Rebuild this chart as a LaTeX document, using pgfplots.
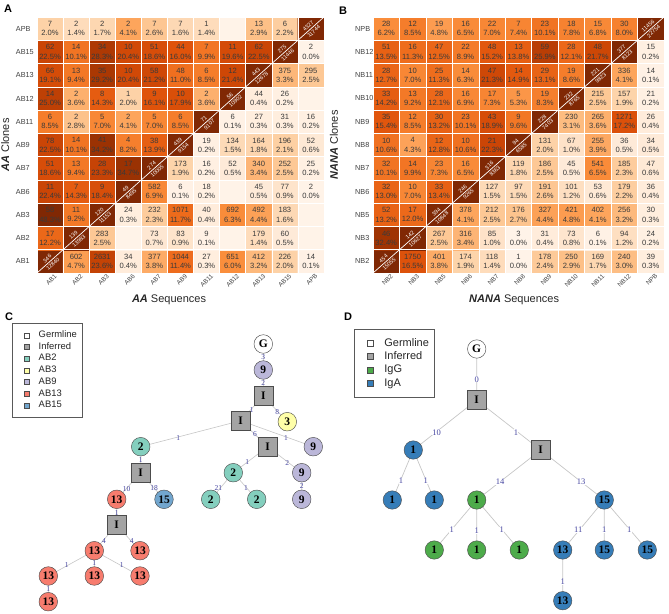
\documentclass[border=0pt]{standalone}
\usepackage{fontspec}
\setmainfont{Liberation Sans}
\newfontfamily\treefont{Liberation Serif}
\usepackage{pgfplots}
\usepackage{pgfplotstable}
\pgfplotsset{compat=1.18}
\pgfkeys{/pgf/number format/assume math mode=true}

\definecolor{celltxt}{HTML}{3A3A3A}
\definecolor{ticktxt}{HTML}{404040}
\definecolor{edgecol}{HTML}{C6C6C6}
\definecolor{edgelab}{HTML}{4545A0}
\definecolor{infer}{HTML}{A4A4A4}
\definecolor{ab2}{HTML}{84CFBE}
\definecolor{ab3}{HTML}{FFFFA8}
\definecolor{ab9}{HTML}{BBB7D9}
\definecolor{ab13}{HTML}{F77C6E}
\definecolor{ab15}{HTML}{72A6CE}
\definecolor{igg}{HTML}{4DAB4A}
\definecolor{iga}{HTML}{367DB8}

\newcommand\cellfont{\fontsize{7.6}{9.2}\selectfont}
\newcommand\diagfont{\fontsize{5.6}{6}\selectfont}
\newcommand\nodefont{\treefont\bfseries\fontsize{11.5}{12}\selectfont}
\newcommand\cntfmt[1]{\pgfmathprintnumber[fixed, precision=0, 1000 sep={}]{#1}}
\newcommand\pctfmt[1]{\pgfmathprintnumber[fixed, fixed zerofill, precision=1]{#1}}

% clones x sequences, A: AA donor, B: NANA donor (t: 0 blank, 1 shared, 2 diagonal)
\pgfplotstableread[row sep=\\]{
x y n p t\\
0 0 346 12840 2\\ 1 0 602 4.7 1\\ 2 0 2631 23.6 1\\ 3 0 34 0.4 1\\ 4 0 377 3.8 1\\ 5 0 1044 11.4 1\\ 6 0 27 0.3 1\\ 7 0 651 6.0 1\\ 8 0 412 3.2 1\\ 9 0 226 2.0 1\\ 10 0 14 0.1 1\\
0 1 17 12.2 1\\ 1 1 139 13983 2\\ 2 1 283 2.5 1\\ 3 1 0 0 0\\ 4 1 73 0.7 1\\ 5 1 83 0.9 1\\ 6 1 9 0.1 1\\ 7 1 0 0 0\\ 8 1 179 1.4 1\\ 9 1 60 0.5 1\\ 10 1 0 0 0\\
0 2 58 48.3 1\\ 1 2 11 9.2 1\\ 2 2 120 11153 2\\ 3 2 24 0.3 1\\ 4 2 232 2.3 1\\ 5 2 1071 11.7 1\\ 6 2 40 0.4 1\\ 7 2 692 6.3 1\\ 8 2 492 4.4 1\\ 9 2 183 1.6 1\\ 10 2 0 0 0\\
0 3 11 22.4 1\\ 1 3 7 14.3 1\\ 2 3 9 18.4 1\\ 3 3 49 8495 2\\ 4 3 582 6.9 1\\ 5 3 6 0.1 1\\ 6 3 18 0.2 1\\ 7 3 0 0 0\\ 8 3 45 0.5 1\\ 9 3 77 0.9 1\\ 10 3 2 0.0 1\\
0 4 51 18.6 1\\ 1 4 13 9.4 1\\ 2 4 28 23.3 1\\ 3 4 17 34.7 1\\ 4 4 274 10005 2\\ 5 4 173 1.9 1\\ 6 4 16 0.2 1\\ 7 4 52 0.5 1\\ 8 4 340 3.4 1\\ 9 4 252 2.5 1\\ 10 4 25 0.2 1\\
0 5 78 22.5 1\\ 1 5 14 10.1 1\\ 2 5 41 34.2 1\\ 3 5 4 8.2 1\\ 4 5 38 13.9 1\\ 5 5 439 9154 2\\ 6 5 19 0.2 1\\ 7 5 134 1.5 1\\ 8 5 164 1.8 1\\ 9 5 196 2.1 1\\ 10 5 52 0.6 1\\
0 6 6 8.5 1\\ 1 6 2 2.8 1\\ 2 6 5 7.0 1\\ 3 6 2 4.1 1\\ 4 6 5 7.0 1\\ 5 6 6 8.5 1\\ 6 6 71 9107 2\\ 7 6 6 0.1 1\\ 8 6 27 0.3 1\\ 9 6 31 0.3 1\\ 10 6 16 0.2 1\\
0 7 14 25.0 1\\ 1 7 2 3.6 1\\ 2 7 8 14.3 1\\ 3 7 1 2.0 1\\ 4 7 9 16.1 1\\ 5 7 10 17.9 1\\ 6 7 2 3.6 1\\ 7 7 56 10902 2\\ 8 7 44 0.4 1\\ 9 7 26 0.2 1\\ 10 7 0 0 0\\
0 8 66 19.1 1\\ 1 8 13 9.4 1\\ 2 8 35 29.2 1\\ 3 8 10 20.4 1\\ 4 8 58 21.2 1\\ 5 8 48 11.0 1\\ 6 8 6 8.5 1\\ 7 8 12 21.4 1\\ 8 8 443 12678 2\\ 9 8 375 3.3 1\\ 10 8 295 2.5 1\\
0 9 62 22.5 1\\ 1 9 14 10.1 1\\ 2 9 34 28.3 1\\ 3 9 10 20.4 1\\ 4 9 51 18.6 1\\ 5 9 44 16.0 1\\ 6 9 7 9.9 1\\ 7 9 11 19.6 1\\ 8 9 62 22.5 1\\ 9 9 275 11446 2\\ 10 9 2 0.0 1\\
0 10 7 2.0 1\\ 1 10 2 1.4 1\\ 2 10 2 1.7 1\\ 3 10 2 4.1 1\\ 4 10 7 2.6 1\\ 5 10 7 1.6 1\\ 6 10 1 1.4 1\\ 7 10 0 0 0\\ 8 10 13 2.9 1\\ 9 10 6 2.2 1\\ 10 10 4327 11744 2\\
}\tabA

\pgfplotstableread[row sep=\\]{
x y n p t\\
0 0 454 15055 2\\ 1 0 1750 16.5 1\\ 2 0 401 3.8 1\\ 3 0 174 1.9 1\\ 4 0 118 1.4 1\\ 5 0 1 0.0 1\\ 6 0 178 2.4 1\\ 7 0 250 2.9 1\\ 8 0 169 1.7 1\\ 9 0 240 3.0 1\\ 10 0 39 0.3 1\\
0 1 46 32.4 1\\ 1 1 142 10627 2\\ 2 1 267 2.5 1\\ 3 1 316 3.4 1\\ 4 1 85 1.0 1\\ 5 1 3 0.0 1\\ 6 1 31 0.4 1\\ 7 1 73 0.8 1\\ 8 1 6 0.1 1\\ 9 1 94 1.2 1\\ 10 1 24 0.2 1\\
0 2 52 13.2 1\\ 1 2 17 12.0 1\\ 2 2 394 10848 2\\ 3 2 378 4.1 1\\ 4 2 212 2.5 1\\ 5 2 176 2.7 1\\ 6 2 327 4.4 1\\ 7 2 421 4.8 1\\ 8 2 402 4.1 1\\ 9 2 256 3.2 1\\ 10 2 30 0.3 1\\
0 3 32 13.0 1\\ 1 3 10 7.0 1\\ 2 3 33 13.4 1\\ 3 3 246 9265 2\\ 4 3 127 1.5 1\\ 5 3 97 1.5 1\\ 6 3 191 2.6 1\\ 7 3 101 1.2 1\\ 8 3 53 0.6 1\\ 9 3 179 2.2 1\\ 10 3 36 0.4 1\\
0 4 32 10.1 1\\ 1 4 14 9.9 1\\ 2 4 23 7.3 1\\ 3 4 16 6.5 1\\ 4 4 316 8363 2\\ 5 4 119 1.8 1\\ 6 4 186 2.5 1\\ 7 4 45 0.5 1\\ 8 4 541 6.5 1\\ 9 4 185 2.3 1\\ 10 4 47 0.6 1\\
0 5 10 10.6 1\\ 1 5 4 4.3 1\\ 2 5 12 12.8 1\\ 3 5 10 10.6 1\\ 4 5 21 22.3 1\\ 5 5 94 6585 2\\ 6 5 131 2.0 1\\ 7 5 67 1.0 1\\ 8 5 255 3.9 1\\ 9 5 36 0.5 1\\ 10 5 34 0.5 1\\
0 6 35 15.4 1\\ 1 6 12 8.5 1\\ 2 6 30 13.2 1\\ 3 6 23 10.1 1\\ 4 6 43 18.9 1\\ 5 6 9 9.6 1\\ 6 6 228 7403 2\\ 7 6 230 3.1 1\\ 8 6 265 3.6 1\\ 9 6 1271 17.2 1\\ 10 6 26 0.4 1\\
0 7 33 14.2 1\\ 1 7 13 9.2 1\\ 2 7 28 12.1 1\\ 3 7 16 6.9 1\\ 4 7 17 7.3 1\\ 5 7 5 5.3 1\\ 6 7 19 8.3 1\\ 7 7 232 8765 2\\ 8 7 215 2.5 1\\ 9 7 157 1.9 1\\ 10 7 21 0.2 1\\
0 8 28 12.7 1\\ 1 8 10 7.0 1\\ 2 8 25 11.3 1\\ 3 8 14 6.3 1\\ 4 8 47 21.3 1\\ 5 8 14 14.9 1\\ 6 8 29 13.1 1\\ 7 8 19 8.6 1\\ 8 8 221 9823 2\\ 9 8 336 4.1 1\\ 10 8 14 0.1 1\\
0 9 51 13.5 1\\ 1 9 16 11.3 1\\ 2 9 47 12.5 1\\ 3 9 22 8.9 1\\ 4 9 48 15.2 1\\ 5 9 13 13.8 1\\ 6 9 59 25.9 1\\ 7 9 28 12.1 1\\ 8 9 48 21.7 1\\ 9 9 377 8123 2\\ 10 9 15 0.2 1\\
0 10 28 6.2 1\\ 1 10 12 8.5 1\\ 2 10 19 4.8 1\\ 3 10 16 6.5 1\\ 4 10 22 7.0 1\\ 5 10 7 7.4 1\\ 6 10 23 10.1 1\\ 7 10 18 7.8 1\\ 8 10 15 6.8 1\\ 9 10 30 8.0 1\\ 10 10 11456 22754 2\\
}\tabB

\pgfplotsset{
  colormap={hmorange}{rgb255(0cm)=(255,243,232) rgb255(1cm)=(254,226,200) rgb255(2cm)=(253,210,167) rgb255(3cm)=(253,190,132) rgb255(4cm)=(253,166,94) rgb255(6cm)=(250,142,60) rgb255(9cm)=(244,122,40) rgb255(12cm)=(236,105,26) rgb255(16cm)=(223,83,11) rgb255(22cm)=(204,70,6) rgb255(30cm)=(166,54,3) rgb255(45cm)=(128,40,4)},
  heat/.style={
    scale only axis, height=256pt,
    xmin=-0.5, xmax=10.5, ymin=-0.5, ymax=10.5,
    axis line style={draw=none}, major tick length=0pt, minor tick length=0pt,
    xtick={0,...,10}, ytick={0,...,10},
    minor xtick={-0.5,0.5,...,10.5}, minor ytick={-0.5,0.5,...,10.5},
    xminorgrids, yminorgrids, minor grid style={white, line width=0.5pt},
    axis on top,
    colormap name=hmorange, point meta min=0, point meta max=45,
    yticklabel style={anchor=west, inner sep=0pt, text=ticktxt, font=\fontsize{7.3}{8}\selectfont},
    xticklabel style={rotate=45, anchor=north east, inner sep=0pt, xshift=2.5pt, yshift=-3pt, text=ticktxt, font=\fontsize{6.3}{7}\selectfont},
    label style={font=\fontsize{11}{13}\selectfont, text=black!85},
    ylabel style={anchor=center}, xlabel style={anchor=center},
  },
  tree/.style={
    scale only axis, height=305pt, ymin=-613, ymax=-308,
    hide axis, clip=false, legend cell align=left,
  },
  sqC/.style={legend image code/.code={\path (0pt,0pt) (12pt,0pt); \draw[draw=black!70, line width=0.4pt, fill=#1] (7pt,-2.5pt) rectangle (12pt,2.5pt);}},
  sqD/.style={legend image code/.code={\path (0pt,0pt) (13.7pt,0pt); \draw[draw=black!70, line width=0.4pt, fill=#1] (7.7pt,-3pt) rectangle (13.7pt,3pt);}},
  treenode/.style={only marks, mark=#1, nodes near coords, point meta=explicit symbolic,
    every node near coord/.append style={anchor=center, font=\nodefont, inner sep=0pt}},
}

\newcommand\heatplots[1]{%
  \addplot[matrix plot*, mesh/cols=11, point meta={\thisrow{t}>1.5 ? 45 : \thisrow{p}}] table[x=x, y=y] {#1};
  \addplot[white, line width=0.7pt] coordinates {(-0.5,-0.5) (10.5,10.5)};
  \addplot[draw=none, nodes near coords={\cntfmt{\cnt}\\\pctfmt{\pct}\%},
    visualization depends on={\thisrow{n}\as\cnt},
    visualization depends on={\thisrow{p}\as\pct},
    every node near coord/.append style={anchor=center, align=center, font=\cellfont, text=celltxt, inner sep=0pt},
    restrict expr to domain={\thisrow{t}}{1:1}] table[x=x, y=y] {#1};
  \addplot[draw=none, nodes near coords={\cntfmt{\cnt}},
    visualization depends on={\thisrow{n}\as\cnt},
    every node near coord/.append style={anchor=center, xshift=-2.8pt, yshift=2.8pt, rotate=42, font=\diagfont, text=white, inner sep=0pt},
    restrict expr to domain={\thisrow{t}}{2:2}] table[x=x, y=y] {#1};
  \addplot[draw=none, nodes near coords={\cntfmt{\pct}},
    visualization depends on={\thisrow{p}\as\pct},
    every node near coord/.append style={anchor=center, xshift=2.8pt, yshift=-2.8pt, rotate=42, font=\diagfont, text=white, inner sep=0pt},
    restrict expr to domain={\thisrow{t}}{2:2}] table[x=x, y=y] {#1};
}

\begin{document}
\begin{tikzpicture}
\useasboundingbox (0pt,-613pt) rectangle (669pt,0pt);

\begin{axis}[heat, at={(37pt,-273pt)}, anchor=south west, width=287pt,
  xticklabels={AB1,AB2,AB3,AB6,AB7,AB9,AB11,AB12,AB13,AB15,APB},
  yticklabels={AB1,AB2,AB3,AB6,AB7,AB9,AB11,AB12,AB13,AB15,APB},
  yticklabel style={xshift=-21.3pt},
  xlabel={\textbf{\textit{AA}} Sequences}, ylabel={\textbf{\textit{AA}} Clones},
  xlabel style={at={(axis description cs:0.46,-0.105)}},
  ylabel style={at={(axis description cs:-0.111,0.5)}}]
\heatplots{\tabA}
\end{axis}

\begin{axis}[heat, at={(373pt,-273pt)}, anchor=south west, width=291pt,
  xticklabels={NB2,NB3,NB5,NB6,NB7,NB8,NB9,NB10,NB11,NB12,NPB},
  yticklabels={NB2,NB3,NB5,NB6,NB7,NB8,NB9,NB10,NB11,NB12,NPB},
  yticklabel style={xshift=-18pt},
  xlabel={\textbf{\textit{NANA}} Sequences}, ylabel={\textbf{\textit{NANA}} Clones},
  xlabel style={at={(axis description cs:0.485,-0.105)}},
  ylabel style={at={(axis description cs:-0.134,0.5)}}]
\heatplots{\tabB}
\end{axis}

% lineage tree C (coordinates in picture pixels)
\begin{axis}[tree, at={(0pt,-613pt)}, anchor=south west, width=335pt, xmin=0, xmax=335,
  legend style={at={(0.0358,0.9508)}, anchor=north west, draw=black!65, line width=0.5pt,
    font=\fontsize{9.4}{10}\selectfont, text=black!85, inner xsep=5pt, inner ysep=7.3pt,
    column sep=9pt, row sep=2.4pt, nodes={inner sep=0pt, text height=7pt, text depth=2.3pt}}]
\addlegendimage{sqC=white}\addlegendentry{Germline}
\addlegendimage{sqC=infer}\addlegendentry{Inferred}
\addlegendimage{sqC=ab2}\addlegendentry{AB2}
\addlegendimage{sqC=ab3}\addlegendentry{AB3}
\addlegendimage{sqC=ab9}\addlegendentry{AB9}
\addlegendimage{sqC=ab13}\addlegendentry{AB13}
\addlegendimage{sqC=ab15}\addlegendentry{AB15}
\addplot[edgecol, line width=0.6pt, unbounded coords=jump] coordinates {
 (263.3,-344) (263.3,-370) (nan,nan) (263.3,-370) (263.3,-396) (nan,nan)
 (263.3,-396) (240.7,-420.7) (nan,nan) (263.3,-396) (287.3,-421.7) (nan,nan)
 (240.7,-420.7) (140.7,-446.7) (nan,nan) (240.7,-420.7) (267.7,-446.7) (nan,nan)
 (240.7,-420.7) (313.3,-446.7) (nan,nan) (140.7,-446.7) (140.7,-472.7) (nan,nan)
 (267.7,-446.7) (233.3,-472.7) (nan,nan) (267.7,-446.7) (301.7,-472.7) (nan,nan)
 (140.7,-472.7) (116.7,-499.3) (nan,nan) (140.7,-472.7) (164,-499.3) (nan,nan)
 (233.3,-472.7) (210.7,-499.3) (nan,nan) (233.3,-472.7) (256.7,-499.3) (nan,nan)
 (301.7,-472.7) (301.7,-499.3) (nan,nan) (116.7,-499.3) (116.7,-525) (nan,nan)
 (116.7,-525) (94.3,-550.7) (nan,nan) (116.7,-525) (140,-550.7) (nan,nan)
 (94.3,-550.7) (48.3,-576) (nan,nan) (94.3,-550.7) (94.3,-576) (nan,nan)
 (94.3,-550.7) (140,-576) (nan,nan) (48.3,-576) (48.3,-601.7)};
\addplot[draw=none, nodes near coords, point meta=explicit symbolic,
  every node near coord/.append style={anchor=center, font=\treefont\fontsize{7.5}{8}\selectfont, text=edgelab, inner sep=0pt}] coordinates {
 (263.3,-357.3)[3] (263.3,-383.3)[2] (251.7,-410)[1] (277.3,-411.7)[8]
 (178.3,-438.3)[1] (255,-434)[6] (286,-437.7)[1] (140.7,-460)[1]
 (247.3,-462.3)[1] (287.3,-462.7)[2] (126.7,-489)[10] (154,-488.3)[18]
 (218.3,-488.3)[21] (246,-488.3)[1] (301.7,-486)[2] (116.7,-512.7)[1]
 (104,-541)[4] (131.7,-541)[4] (66.7,-565)[1] (94.3,-563.3)[1] (121.7,-565)[1] (48.3,-589.3)[1]};
\addplot[treenode=*, mark size=9.3pt, mark options={fill=white, draw=black!70, line width=0.45pt}] coordinates {(263.3,-344)[G]};
\addplot[treenode=square*, mark size=9.5pt, mark options={fill=infer, draw=black!70, line width=0.45pt}] coordinates {
 (263.3,-396)[I] (240.7,-420.7)[I] (267.7,-446.7)[I] (140.7,-472.7)[I] (116.7,-525)[I]};
\addplot[treenode=*, mark size=9.3pt, mark options={fill=ab9, draw=black!70, line width=0.45pt}] coordinates {
 (263.3,-370)[9] (313.3,-446.7)[9] (301.7,-472.7)[9] (301.7,-499.3)[9]};
\addplot[treenode=*, mark size=9.3pt, mark options={fill=ab3, draw=black!70, line width=0.45pt}] coordinates {(287.3,-421.7)[3]};
\addplot[treenode=*, mark size=9.3pt, mark options={fill=ab2, draw=black!70, line width=0.45pt}] coordinates {
 (140.7,-446.7)[2] (233.3,-472.7)[2] (210.7,-499.3)[2] (256.7,-499.3)[2]};
\addplot[treenode=*, mark size=9.3pt, mark options={fill=ab13, draw=black!70, line width=0.45pt}] coordinates {
 (116.7,-499.3)[13] (94.3,-550.7)[13] (140,-550.7)[13] (48.3,-576)[13] (94.3,-576)[13] (140,-576)[13] (48.3,-601.7)[13]};
\addplot[treenode=*, mark size=9.3pt, mark options={fill=ab15, draw=black!70, line width=0.45pt}] coordinates {(164,-499.3)[15]};
\end{axis}

% lineage tree D
\begin{axis}[tree, at={(335pt,-613pt)}, anchor=south west, width=334pt, xmin=335, xmax=669,
  legend style={at={(0.0578,0.930)}, anchor=north west, draw=black!65, line width=0.5pt,
    font=\fontsize{11}{12}\selectfont, text=black!85, inner xsep=5pt, inner ysep=8.2pt,
    column sep=10.6pt, row sep=2.3pt, nodes={inner sep=0pt, text height=8.3pt, text depth=2.7pt}}]
\addlegendimage{sqD=white}\addlegendentry{Germline}
\addlegendimage{sqD=infer}\addlegendentry{Inferred}
\addlegendimage{sqD=igg}\addlegendentry{IgG}
\addlegendimage{sqD=iga}\addlegendentry{IgA}
\addplot[edgecol, line width=0.7pt, unbounded coords=jump] coordinates {
 (476.7,-349) (476.7,-400) (nan,nan) (476.7,-400) (413.3,-450) (nan,nan)
 (476.7,-400) (540.7,-450) (nan,nan) (413.3,-450) (392.3,-500) (nan,nan)
 (413.3,-450) (434.3,-500) (nan,nan) (540.7,-450) (476.7,-500) (nan,nan)
 (540.7,-450) (604.3,-500) (nan,nan) (476.7,-500) (434.3,-550) (nan,nan)
 (476.7,-500) (476.7,-550) (nan,nan) (476.7,-500) (519.3,-550) (nan,nan)
 (604.3,-500) (562.7,-550) (nan,nan) (604.3,-500) (604.3,-550) (nan,nan)
 (604.3,-500) (647.3,-550) (nan,nan) (562.7,-550) (562.7,-600.7)};
\addplot[draw=none, nodes near coords, point meta=explicit symbolic,
  every node near coord/.append style={anchor=center, font=\treefont\fontsize{8.5}{9}\selectfont, text=edgelab, fill=white, inner sep=0.3pt}] coordinates {
 (476.7,-379.3)[0] (436.7,-432.3)[10] (516,-432.3)[1] (401,-481)[1] (425.7,-481)[1]
 (500,-482)[14] (581,-482)[13] (451.7,-530)[1] (476.7,-530.7)[1] (501.7,-530)[1]
 (578.3,-530)[11] (604.3,-530)[1] (629.3,-530)[1] (562.7,-581.7)[1]};
\addplot[treenode=*, mark size=9.2pt, mark options={fill=white, draw=black!70, line width=0.45pt}] coordinates {(476.7,-349)[G]};
\addplot[treenode=square*, mark size=9.3pt, mark options={fill=infer, draw=black!70, line width=0.45pt}] coordinates {(476.7,-400)[I] (540.7,-450)[I]};
\addplot[treenode=*, mark size=9.2pt, mark options={fill=igg, draw=black!70, line width=0.45pt}] coordinates {
 (476.7,-500)[1] (434.3,-550)[1] (476.7,-550)[1] (519.3,-550)[1]};
\addplot[treenode=*, mark size=9.2pt, mark options={fill=iga, draw=black!70, line width=0.45pt}] coordinates {
 (413.3,-450)[1] (392.3,-500)[1] (434.3,-500)[1] (604.3,-500)[15] (562.7,-550)[13] (604.3,-550)[15] (647.3,-550)[15] (562.7,-600.7)[13]};
\end{axis}

\node[font=\bfseries\fontsize{11}{11}\selectfont] at (8pt,-9pt) {A};
\node[font=\bfseries\fontsize{11}{11}\selectfont] at (343pt,-11pt) {B};
\node[font=\bfseries\fontsize{11}{11}\selectfont] at (9pt,-317pt) {C};
\node[font=\bfseries\fontsize{11}{11}\selectfont] at (348pt,-317pt) {D};
\end{tikzpicture}
\end{document}
